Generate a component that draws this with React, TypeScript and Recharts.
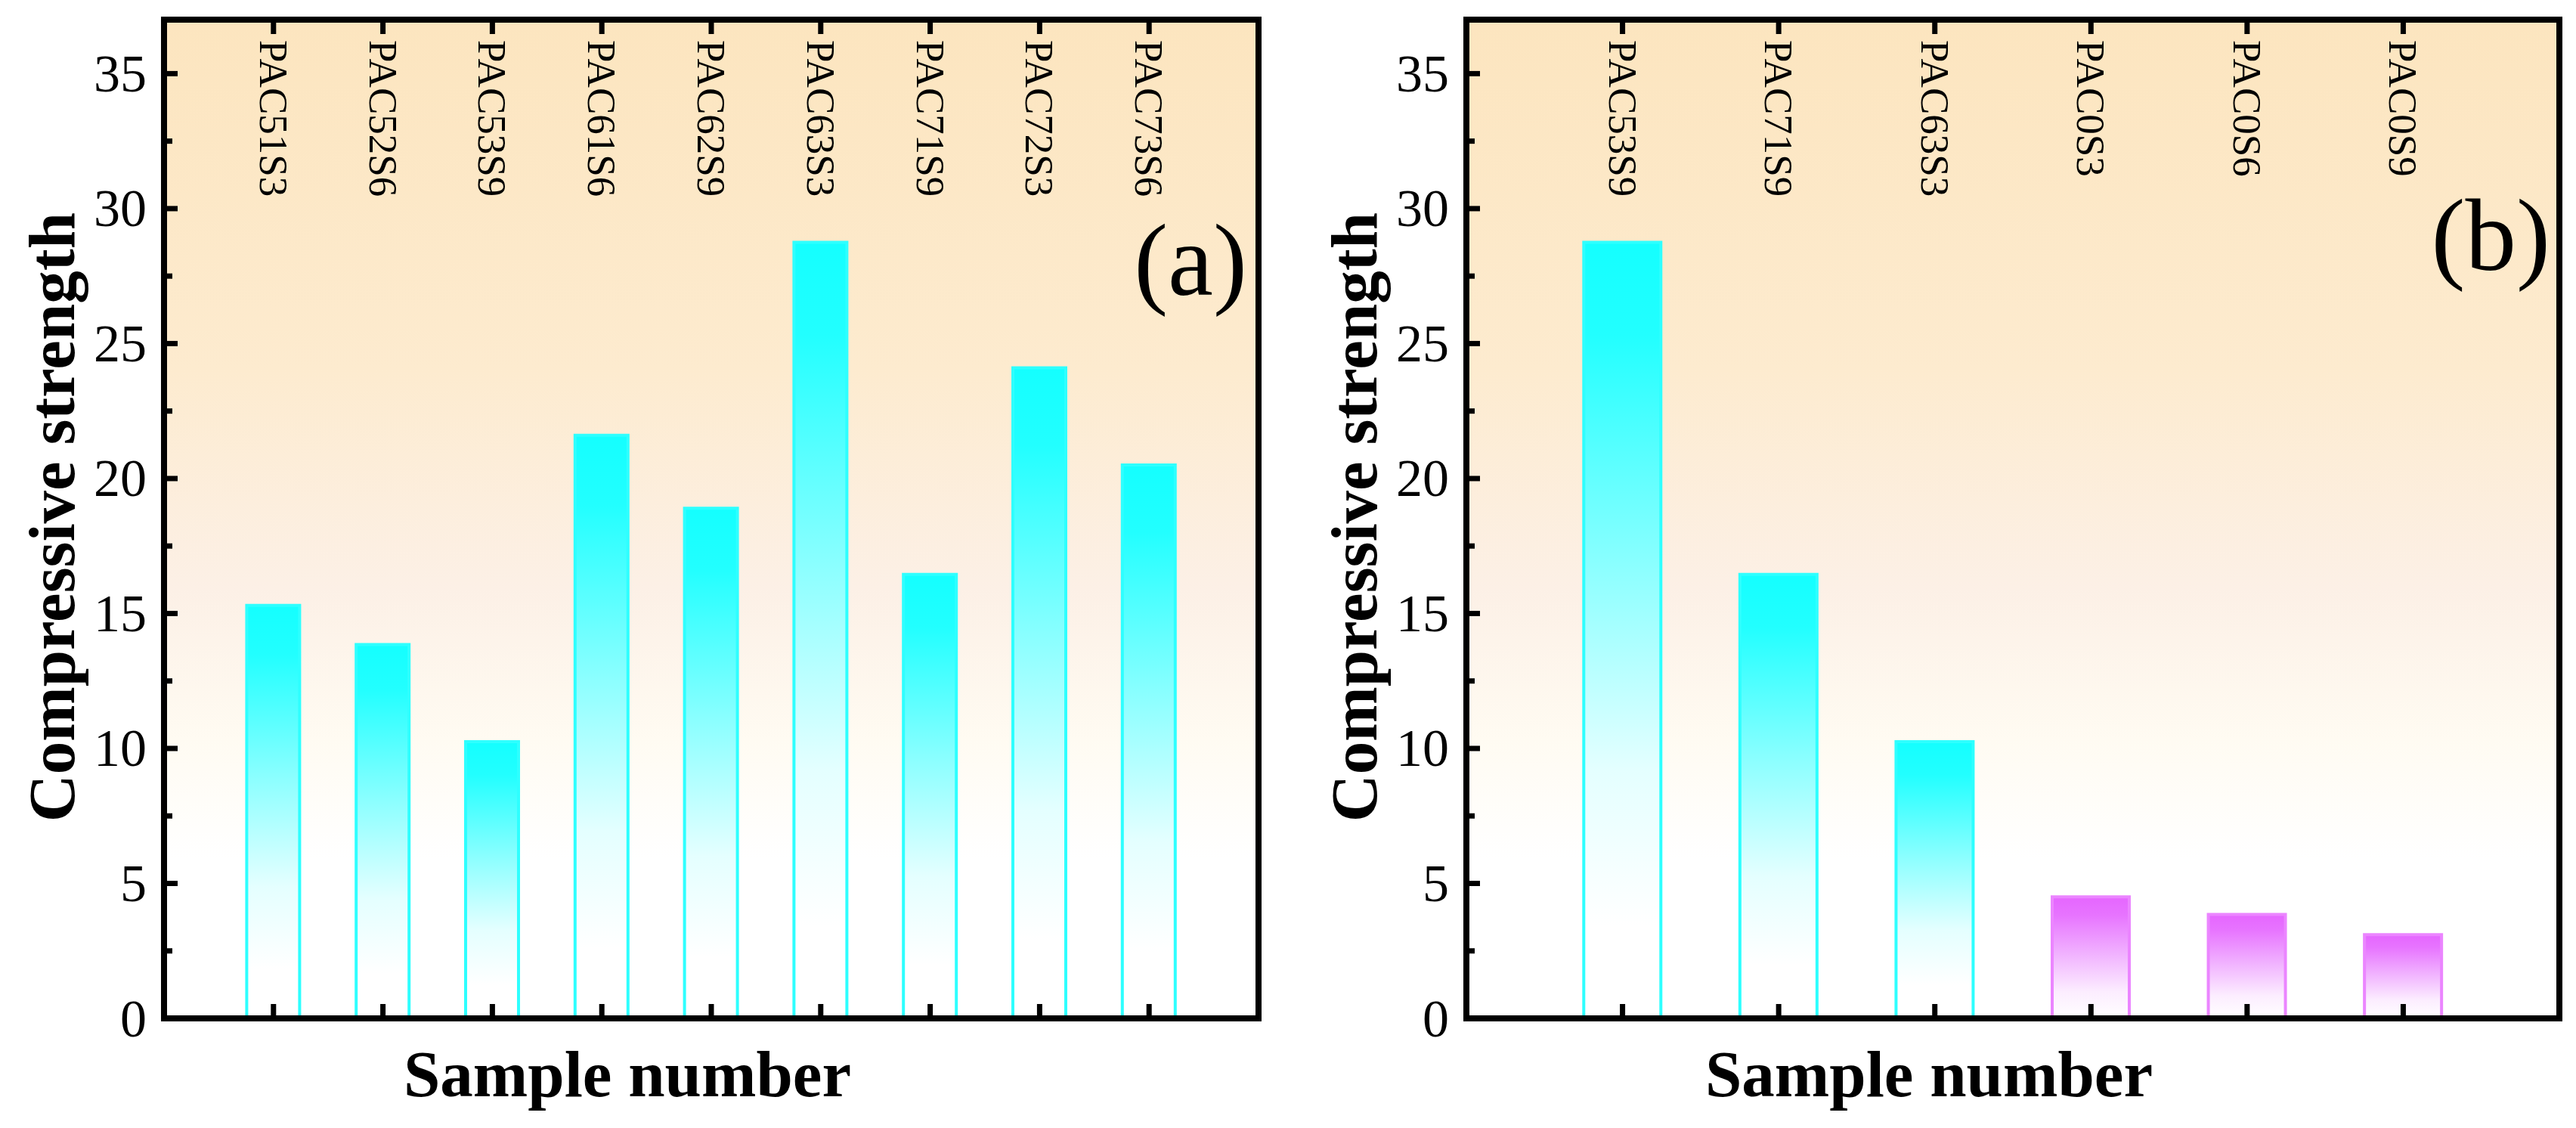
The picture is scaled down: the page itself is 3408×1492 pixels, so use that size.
import { Bar, BarChart, CartesianGrid, Cell, XAxis, YAxis } from 'recharts';

// panel (a): all mixes
const samplesA = ['PAC51S3', 'PAC52S6', 'PAC53S9', 'PAC61S6', 'PAC62S9', 'PAC63S3', 'PAC71S9', 'PAC72S3', 'PAC73S6'];
const strengthA = [15.3, 13.85, 10.25, 21.6, 18.9, 28.75, 16.45, 24.1, 20.5];

// panel (b): best mixes against the plain references
const samplesB = ['PAC53S9', 'PAC71S9', 'PAC63S3', 'PAC0S3', 'PAC0S6', 'PAC0S9'];
const strengthB = [28.75, 16.45, 10.25, 4.5, 3.85, 3.1];
const controlSamples = ['PAC0S3', 'PAC0S6', 'PAC0S9'];

const majorTicks = [0, 5, 10, 15, 20, 25, 30, 35];
const minorTicks = [2.5, 7.5, 12.5, 17.5, 22.5, 27.5, 32.5];
const Y_MAX = 37;

const FONT = '"Liberation Serif", "Times New Roman", serif';
const W = 3408;
const H = 1492;
const CHART_W = 1704;
const PLOT_TOP = 26;
const PLOT_BOTTOM = 1347;

const frame = { stroke: '#000', strokeWidth: 8, strokeLinecap: 'square' as const };
const yTicks = [...majorTicks, ...minorTicks].sort((a, b) => a - b);

function BottomTick({ x, y }: any) {
  return <line x1={x} x2={x} y1={y} y2={y - 19} stroke="#000" strokeWidth={7} />;
}

function TopTick({ x, y, payload }: any) {
  return (
    <g>
      <line x1={x} x2={x} y1={y} y2={y + 19} stroke="#000" strokeWidth={7} />
      <text
        transform={`translate(${x},${y + 27}) rotate(90)`}
        textAnchor="start"
        dominantBaseline="central"
        fontFamily={FONT}
        fontSize={53}
        fill="#000"
      >
        {payload.value}
      </text>
    </g>
  );
}

function LeftTick({ x, y, payload }: any) {
  const major = majorTicks.includes(payload.value);
  return (
    <g>
      <line x1={x} x2={x + (major ? 18 : 11)} y1={y} y2={y} stroke="#000" strokeWidth={7} />
      {major && (
        <text x={x - 23} y={y} textAnchor="end" dominantBaseline="central" fontFamily={FONT} fontSize={70} fill="#000">
          {payload.value}
        </text>
      )}
    </g>
  );
}

interface PanelProps {
  id: string;
  names: string[];
  values: number[];
  left: number;
  plotLeft: number;
  plotRight: number;
  barSize: number;
}

function Panel({ id, names, values, left, plotLeft, plotRight, barSize }: PanelProps) {
  const data = names.map((name, i) => ({ name, value: values[i] }));
  const pad = (plotRight - plotLeft) / (names.length + 1) / 2;

  // axes are 1px thick so Recharts still draws them; margins absorb that pixel
  return (
    <div style={{ position: 'absolute', left, top: 0 }}>
      <BarChart
        width={CHART_W}
        height={H}
        data={data}
        margin={{ top: PLOT_TOP - 1, bottom: H - PLOT_BOTTOM - 1, left: plotLeft - 1, right: CHART_W - plotRight - 1 }}
      >
        <defs>
          <linearGradient id={`${id}-bg`} x1="0" y1="0" x2="0" y2="1">
            <stop offset="0%" stopColor="#fce5bf" />
            <stop offset="35%" stopColor="#fdebcf" />
            <stop offset="57%" stopColor="#fcf0e6" />
            <stop offset="72%" stopColor="#fffbf2" />
            <stop offset="84%" stopColor="#ffffff" />
          </linearGradient>
          <linearGradient id={`${id}-cyan`} x1="0" y1="0" x2="0" y2="1">
            <stop offset="0%" stopColor="#14ffff" />
            <stop offset="12%" stopColor="#22ffff" />
            <stop offset="42%" stopColor="#8cffff" />
            <stop offset="68%" stopColor="#e4ffff" />
            <stop offset="88%" stopColor="#ffffff" />
          </linearGradient>
          <linearGradient id={`${id}-violet`} x1="0" y1="0" x2="0" y2="1">
            <stop offset="0%" stopColor="#e566ff" />
            <stop offset="15%" stopColor="#e774ff" />
            <stop offset="48%" stopColor="#f1b4ff" />
            <stop offset="78%" stopColor="#fcedff" />
            <stop offset="100%" stopColor="#ffffff" />
          </linearGradient>
        </defs>
        <CartesianGrid horizontal={false} vertical={false} fill={`url(#${id}-bg)`} />
        <XAxis
          dataKey="name"
          height={1}
          padding={{ left: pad, right: pad }}
          interval={0}
          tickSize={0}
          tickMargin={0}
          tickLine={false}
          axisLine={frame}
          tick={BottomTick}
        />
        <XAxis
          xAxisId="top"
          orientation="top"
          dataKey="name"
          height={1}
          padding={{ left: pad, right: pad }}
          interval={0}
          tickSize={0}
          tickMargin={0}
          tickLine={false}
          axisLine={frame}
          tick={TopTick}
        />
        <YAxis
          domain={[0, Y_MAX]}
          ticks={yTicks}
          interval={0}
          width={1}
          tickSize={0}
          tickMargin={0}
          tickLine={false}
          axisLine={frame}
          tick={LeftTick}
        />
        <YAxis
          yAxisId="right"
          orientation="right"
          domain={[0, Y_MAX]}
          width={1}
          tick={false}
          tickLine={false}
          axisLine={frame}
        />
        <Bar dataKey="value" barSize={barSize} strokeWidth={4} isAnimationActive={false}>
          {data.map((d) =>
            controlSamples.includes(d.name) ? (
              <Cell key={d.name} fill={`url(#${id}-violet)`} stroke="#eb85ff" />
            ) : (
              <Cell key={d.name} fill={`url(#${id}-cyan)`} stroke="#2effff" />
            ),
          )}
        </Bar>
      </BarChart>
    </div>
  );
}

export default function App() {
  const title = { fontFamily: FONT, fontSize: 87, fontWeight: 'bold' as const, fill: '#000' };
  return (
    <div style={{ position: 'absolute', left: 0, top: 0, width: W, height: H, background: '#fff', overflow: 'hidden' }}>
      <Panel id="a" names={samplesA} values={strengthA} left={0} plotLeft={217} plotRight={1665} barSize={70} />
      <Panel id="b" names={samplesB} values={strengthB} left={CHART_W} plotLeft={236} plotRight={1682} barSize={102} />
      <svg width={W} height={H} style={{ position: 'absolute', left: 0, top: 0, pointerEvents: 'none' }}>
        <text transform="translate(98,684) rotate(-90)" textAnchor="middle" {...title}>
          Compressive strength
        </text>
        <text transform="translate(1821,684) rotate(-90)" textAnchor="middle" {...title}>
          Compressive strength
        </text>
        <text x={830} y={1450} textAnchor="middle" {...title}>
          Sample number
        </text>
        <text x={2552} y={1450} textAnchor="middle" {...title}>
          Sample number
        </text>
        <text x={1650} y={390} textAnchor="end" fontFamily={FONT} fontSize={135} fill="#000">
          (a)
        </text>
        <text x={3374} y={357} textAnchor="end" fontFamily={FONT} fontSize={135} fill="#000">
          (b)
        </text>
      </svg>
    </div>
  );
}
